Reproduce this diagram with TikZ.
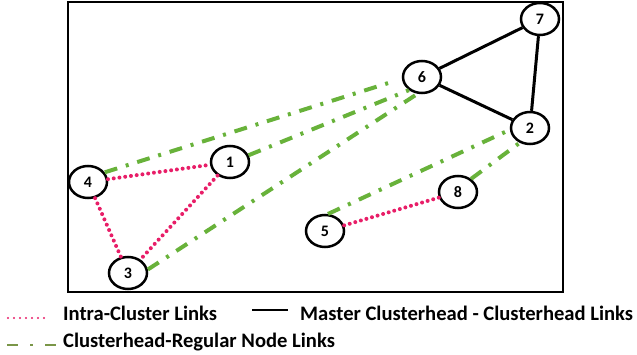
\documentclass[tikz,border=0pt]{standalone}
\usepackage{fontspec}
\setmainfont{Carlito}
\usetikzlibrary{shapes.geometric}
\definecolor{intrapink}{RGB}{232,30,104}
\definecolor{chgreen}{RGB}{104,178,58}
\definecolor{legendgreen}{RGB}{122,150,72}
\tikzset{
  sensor/.style={draw=black, line width=2.5pt, ellipse, fill=white,
    minimum width=38pt, minimum height=32pt, inner sep=0pt,
    font=\fontsize{16}{16}\selectfont\bfseries},
  intralink/.style={draw=intrapink, line width=4pt, line cap=round,
    dash pattern=on 0pt off 5.8pt},
  masterlink/.style={draw=black, line width=3pt},
  regularlink/.style={draw=chgreen, line width=4pt,
    dash pattern=on 13pt off 9pt on 3pt off 9pt},
  legendtext/.style={anchor=west, inner sep=0pt,
    font=\fontsize{20.6}{20.6}\selectfont\bfseries}
}
\begin{document}
\begin{tikzpicture}[x=1pt, y=-1pt]
  \useasboundingbox (0,0) rectangle (637,355);
  % outer frame of the network area
  \draw[line width=2pt] (68,2) rectangle (563,292);

  % network nodes
  \node[sensor] (n7) at (540,19) {7};
  \node[sensor] (n6) at (422,77) {6};
  \node[sensor] (n2) at (530,128) {2};
  \node[sensor] (n1) at (230,162) {1};
  \node[sensor] (n4) at (88,182) {4};
  \node[sensor] (n8) at (458,192) {8};
  \node[sensor] (n5) at (325,231) {5};
  \node[sensor] (n3) at (128,273) {3};

  % clusterhead - regular node links
  \draw[regularlink, shorten >=9pt] (n4.30) -- (n6.185);
  \draw[regularlink] (n1.20) -- (n6.225);
  \draw[regularlink] (n3.10) -- (n6.255);
  \draw[regularlink] (n5.80) -- (n2.185);
  \draw[regularlink] (n8.45) -- (n2.235);

  % intra-cluster links
  \draw[intralink] (n4) -- (n1);
  \draw[intralink] (n4) -- (n3);
  \draw[intralink] (n1) -- (n3);
  \draw[intralink] (n5) -- (n8);

  % master clusterhead - clusterhead links
  \draw[masterlink] (n6) -- (n7);
  \draw[masterlink] (n7) -- (n2);
  \draw[masterlink] (n6) -- (n2);

  % legend
  \coordinate (lp1) at (8,318);
  \coordinate (lp2) at (44,318);
  \draw[draw=intrapink, line width=2.4pt, line cap=round,
        dash pattern=on 0pt off 6pt] (lp1) -- (lp2);
  \node[legendtext] (lt1) at (63,313) {Intra-Cluster Links};

  \coordinate (lb1) at (252,310);
  \coordinate (lb2) at (288,310);
  \draw[line width=2.8pt] (lb1) -- (lb2);
  \node[legendtext] (lt2) at (300,313) {Master Clusterhead - Clusterhead Links};

  \coordinate (lg1) at (7,345);
  \coordinate (lg2) at (56,345);
  \draw[draw=legendgreen, line width=2.8pt,
        dash pattern=on 11pt off 12pt on 3pt off 12pt] (lg1) -- (lg2);
  \node[legendtext] (lt3) at (63,342) {Clusterhead-Regular Node Links};
\end{tikzpicture}
\end{document}
